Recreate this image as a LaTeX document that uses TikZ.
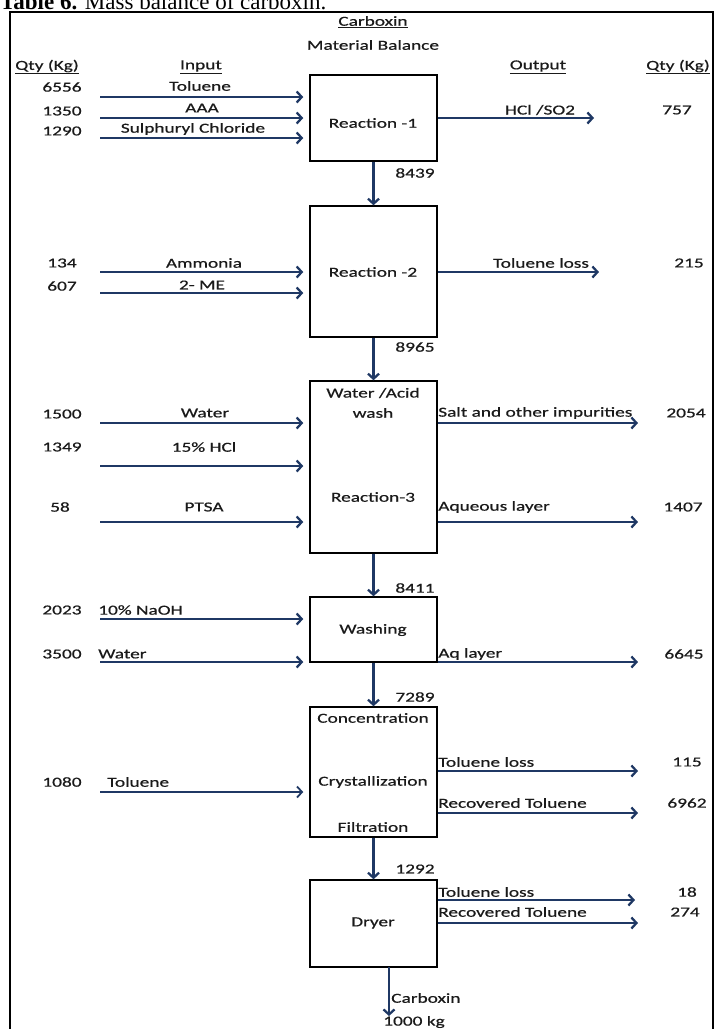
\documentclass[tikz,border=0pt]{standalone}
\usepackage{fontspec}
\setmainfont{Carlito}
\newfontfamily\boldish{Carlito}[FakeBold=0.5]
\newfontfamily\capfont{Liberation Serif}
\usetikzlibrary{arrows.meta}
\definecolor{navy}{HTML}{1F3864}
\definecolor{ink}{HTML}{1A1A1A}
\tikzset{
  txt/.style={inner sep=0pt, text=ink, font=\boldish\fontsize{13.8}{15}\selectfont, xscale=1.4},
  procbox/.style={draw=black, line width=1.5pt, minimum width=127pt, inner sep=0pt},
  flow/.style={draw=navy, line width=2.3pt, -{Straight Barb[length=5pt,width=11pt]}},
}
\begin{document}
\begin{tikzpicture}[x=1pt,y=-1pt]
\useasboundingbox (0,0) rectangle (717,1029);
% caption (cut at top, as in the reference)
\node[anchor=base west, inner sep=0pt, font=\capfont\fontsize{23}{25}\selectfont] (cap) at (0,9) {\textbf{Table 6.} Mass balance of carboxin.};
% frame
\draw[line width=1.8pt] (10,1040) -- (10,12) -- (713,12) -- (713,1040);
% headers
\node[txt] (h0) at (373,22) {\underline{Carboxin}};
\node[txt] (h1) at (373,45) {Material Balance};
\node[txt] (hq1) at (47,67) {\underline{Qty (Kg)}};
\node[txt] (hin) at (201,67) {\underline{Input}};
\node[txt] (hout) at (538,67) {\underline{Output}};
\node[txt] (hq2) at (678,67) {\underline{Qty (Kg)}};
% boxes
\node[procbox, minimum height=86pt] (r1) at (373.5,118) {};
\node[procbox, minimum height=131pt] (r2) at (373.5,271.5) {};
\node[procbox, minimum height=172pt] (r3) at (373.5,467) {};
\node[procbox, minimum height=65pt] (r4) at (373.5,629.5) {};
\node[procbox, minimum height=130pt] (r5) at (373.5,772) {};
\node[procbox, minimum height=87pt] (r6) at (373.5,923.5) {};
% box texts
\node[txt] (t1) at (373,123) {Reaction -1};
\node[txt] (t2) at (373,272) {Reaction -2};
\node[txt] (t3a) at (373,393) {Water /Acid};
\node[txt] (t3b) at (373,413) {wash};
\node[txt] (t3c) at (373,497) {Reaction-3};
\node[txt] (t4) at (373,630) {Washing};
\node[txt] (t5a) at (373,718) {Concentration};
\node[txt] (t5b) at (373,782) {Crystallization};
\node[txt] (t5c) at (373,827) {Filtration};
\node[txt] (t6) at (373,923) {Dryer};
% vertical flows
\draw[flow] (r1.south) -- (r2.north);
\draw[flow] (r2.south) -- (r3.north);
\draw[flow] (r3.south) -- (r4.north);
\draw[flow] (r4.south) -- (r5.north);
\draw[flow] (r5.south) -- (r6.north);
\node[txt] (m1) at (415,173) {8439};
\node[txt] (m2) at (415,347) {8965};
\node[txt] (m3) at (415,588) {8411};
\node[txt] (m4) at (415,697) {7289};
\node[txt] (m5) at (415,869) {1292};
% final product
\coordinate (p0) at (389,967);
\coordinate (p1) at (389,1016);
\draw[flow] (p0) -- (p1);
\node[txt, anchor=west] (prod) at (391,998) {Carboxin};
\node[txt] (prodq) at (414,1022) {1000 kg};
% ---- Reaction 1 inputs
\node[txt] (q11) at (62,87) {6556};
\node[txt] (n11) at (200,86) {Toluene};
\coordinate (a11) at (100,97);
\draw[flow] (a11) -- ([xshift=-6pt]a11 -| r1.west);
\node[txt] (q12) at (62,111) {1350};
\node[txt] (n12) at (202,108) {AAA};
\coordinate (a12) at (100,118);
\draw[flow] (a12) -- ([xshift=-6pt]a12 -| r1.west);
\node[txt] (q13) at (62,131) {1290};
\node[txt] (n13) at (193,129) {Sulphuryl Chloride};
\coordinate (a13) at (100,138);
\draw[flow] (a13) -- ([xshift=-6pt]a13 -| r1.west);
% Reaction 1 output
\node[txt] (o11) at (540,110) {HCl /SO2};
\coordinate (b11) at (594,118);
\draw[flow] (b11 -| r1.east) -- (b11);
\node[txt] (w11) at (677,110) {757};
% ---- Reaction 2
\node[txt] (q21) at (62,263) {134};
\node[txt] (n21) at (204,263) {Ammonia};
\coordinate (a21) at (100,272);
\draw[flow] (a21) -- ([xshift=-6pt]a21 -| r2.west);
\node[txt] (q22) at (62,286) {607};
\node[txt] (n22) at (202,285) {2- ME};
\coordinate (a22) at (100,293);
\draw[flow] (a22) -- ([xshift=-6pt]a22 -| r2.west);
\node[txt] (o21) at (541,263) {Toluene loss};
\coordinate (b21) at (599,272);
\draw[flow] (b21 -| r2.east) -- (b21);
\node[txt] (w21) at (689,263) {215};
% ---- Reaction 3
\node[txt] (q31) at (62,414) {1500};
\node[txt] (n31) at (205,413) {Water};
\coordinate (a31) at (100,423);
\draw[flow] (a31) -- ([xshift=-6pt]a31 -| r3.west);
\node[txt] (q32) at (62,447) {1349};
\node[txt] (n32) at (204,447) {15\% HCl};
\coordinate (a32) at (100,466);
\draw[flow] (a32) -- ([xshift=-6pt]a32 -| r3.west);
\node[txt] (q33) at (60,507) {58};
\node[txt] (n33) at (204,507) {PTSA};
\coordinate (a33) at (100,522);
\draw[flow] (a33) -- ([xshift=-6pt]a33 -| r3.west);
\node[txt, anchor=west] (o31) at (438,413) {Salt and other impurities};
\coordinate (b31) at (638,423);
\draw[flow] (b31 -| r3.east) -- (b31);
\node[txt] (w31) at (686,413) {2054};
\node[txt, anchor=west] (o32) at (438,507) {Aqueous layer};
\coordinate (b32) at (638,522);
\draw[flow] (b32 -| r3.east) -- (b32);
\node[txt] (w32) at (683,507) {1407};
% ---- Washing
\node[txt] (q41) at (62,610) {2023};
\node[txt, anchor=west] (n41) at (98,610) {10\% NaOH};
\coordinate (a41) at (100,619);
\draw[flow] (a41) -- ([xshift=-6pt]a41 -| r4.west);
\node[txt] (q42) at (62,654) {3500};
\node[txt, anchor=west] (n42) at (98,654) {Water};
\coordinate (a42) at (100,662);
\draw[flow] (a42) -- ([xshift=-6pt]a42 -| r4.west);
\node[txt, anchor=west] (o41) at (438,654) {Aq layer};
\coordinate (b41) at (638,662);
\draw[flow] (b41 -| r4.east) -- (b41);
\node[txt] (w41) at (684,654) {6645};
% ---- Concentration / Crystallization / Filtration
\node[txt] (q51) at (62,782) {1080};
\node[txt, anchor=west] (n51) at (107,782) {Toluene};
\coordinate (a51) at (100,792);
\draw[flow, line width=1.8pt] (a51) -- ([xshift=-6pt]a51 -| r5.west);
\node[txt, anchor=west] (o51) at (438,762) {Toluene loss};
\coordinate (b51) at (638,771);
\draw[flow] (b51 -| r5.east) -- (b51);
\node[txt] (w51) at (687,762) {115};
\node[txt, anchor=west] (o52) at (438,803) {Recovered Toluene};
\coordinate (b52) at (638,813);
\draw[flow] (b52 -| r5.east) -- (b52);
\node[txt] (w52) at (687,803) {6962};
% ---- Dryer
\node[txt, anchor=west] (o61) at (438,892) {Toluene loss};
\coordinate (b61) at (635,900);
\draw[flow] (b61 -| r6.east) -- (b61);
\node[txt] (w61) at (687,892) {18};
\node[txt, anchor=west] (o62) at (438,912) {Recovered Toluene};
\coordinate (b62) at (638,923);
\draw[flow] (b62 -| r6.east) -- (b62);
\node[txt] (w62) at (685,912) {274};
\end{tikzpicture}
\end{document}
